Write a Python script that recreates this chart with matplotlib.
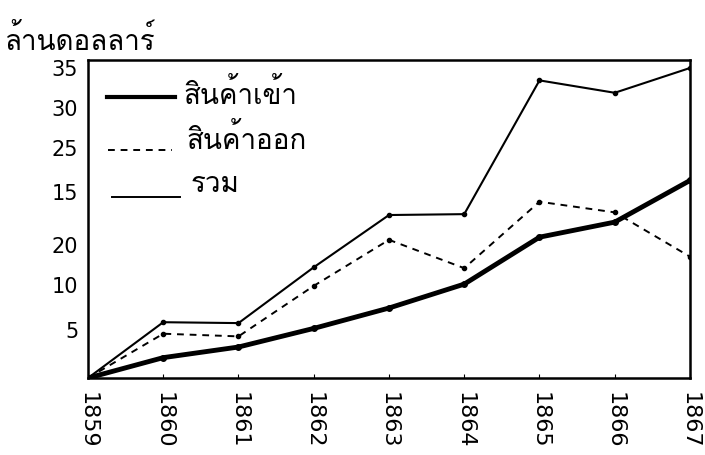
import matplotlib
matplotlib.use("Agg")
import matplotlib.pyplot as plt

plt.rcParams['font.family'] = ['DejaVu Sans', 'Loma']

years = [1859, 1860, 1861, 1862, 1863, 1864, 1865, 1866, 1867]
imports = [0, 2.3, 3.5, 5.6, 7.9, 10.6, 15.9, 17.6, 22.3]
exports = [0, 5.0, 4.7, 10.4, 15.6, 12.4, 19.9, 18.7, 13.7]
total = [0, 6.3, 6.2, 12.5, 18.4, 18.5, 33.6, 32.2, 35.0]

# the scanned chart has 15 and 20 swapped on the axis
ytick_pos = [35, 30.5, 26, 21, 15, 10.5, 5.4]
ytick_labels = ["35", "30", "25", "15", "20", "10", "5"]

names = ["สินค้าเข้า", "สินค้าออก", "รวม"]

fig = plt.figure(figsize=(7.05, 4.55), dpi=100)
ax = fig.add_axes([0.1248, 0.1692, 0.8539, 0.6989])

ax.plot(years, total, color="black", lw=1.5, marker="o", ms=3)
ax.plot(years, exports, color="black", lw=1.4, ls=(0, (3.5, 3)), marker="o", ms=3)
ax.plot(years, imports, color="black", lw=3.5, marker="o", ms=4)

ax.set_xlim(1859, 1867)
ax.set_ylim(0, 35.9)
ax.set_xticks(years)
ax.set_xticklabels([str(y) for y in years], rotation=270, fontsize=16)
ax.set_yticks(ytick_pos)
ax.set_yticklabels(ytick_labels, fontsize=15)
ax.tick_params(axis="y", length=0, pad=7)
ax.tick_params(axis="x", direction="in", length=3, pad=10)
for s in ax.spines.values():
    s.set_linewidth(1.8)

# hand-drawn legend, upper left
ax.plot([0.032, 0.145], [0.884, 0.884], color="black", lw=3.0, transform=ax.transAxes)
ax.plot([0.033, 0.140], [0.717, 0.717], color="black", lw=1.4, ls=(0, (3.5, 3)),
        transform=ax.transAxes)
ax.plot([0.040, 0.153], [0.569, 0.569], color="black", lw=1.4, transform=ax.transAxes)
ax.text(0.158, 0.890, names[0], fontsize=20, va="center", transform=ax.transAxes)
ax.text(0.164, 0.750, names[1], fontsize=20, va="center", transform=ax.transAxes)
ax.text(0.170, 0.610, names[2], fontsize=20, va="center", transform=ax.transAxes)

fig.text(0.007, 0.89, "ล้านดอลลาร์", fontsize=20, va="baseline")

fig.savefig("out.png", dpi=100)
